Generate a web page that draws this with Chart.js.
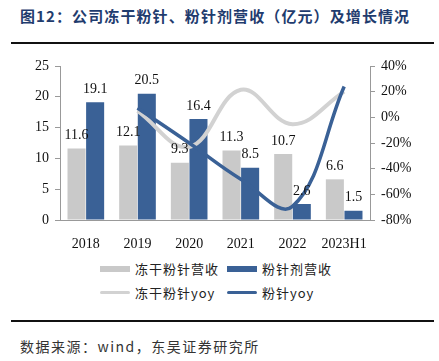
<!DOCTYPE html>
<html>
<head>
<meta charset="utf-8">
<script src="https://cdn.jsdelivr.net/npm/chart.js@4"></script>
<style>
  body { margin: 0; background: #fff; width: 439px; height: 361px; position: relative; overflow: hidden; }
  #title { position: absolute; left: 20px; top: 5px; font: bold 15px "Noto Sans CJK SC"; color: #1f3c6e; letter-spacing: 1.1px; white-space: nowrap; }
  .rule { position: absolute; left: 11px; width: 423px; height: 2px; background: #111; }
  #chart-box { position: absolute; left: 0; top: 44px; }
  .leg { position: absolute; font: 13px "Noto Sans CJK SC"; color: #222; letter-spacing: 1px; white-space: nowrap; }
  .sw { position: absolute; }
  #source { position: absolute; left: 20px; top: 336px; font: 14px "Noto Sans CJK SC"; color: #333; letter-spacing: 1.5px; white-space: nowrap; }
</style>
</head>
<body>
<div id="title">图12：公司冻干粉针、粉针剂营收（亿元）及增长情况</div>
<div class="rule" style="top:42px"></div>
<div id="chart-box"><canvas id="combo-chart" width="439" height="210"></canvas></div>
<div id="legend"></div>
<div class="rule" style="top:320px"></div>
<div id="source">数据来源：wind，东吴证券研究所</div>
<script>
const labels = ['2018', '2019', '2020', '2021', '2022', '2023H1']
const dryRevenue = [11.6, 12.1, 9.3, 11.3, 10.7, 6.6]
const powderRevenue = [19.1, 20.5, 16.4, 8.5, 2.6, 1.5]
const dryYoy = [null, 5, -23.1, 21.5, -5.3, 20]
const powderYoy = [null, 7.3, -20, -48.2, -69.4, 24]
const seriesNames = ['冻干粉针营收', '粉针剂营收', '冻干粉针yoy', '粉针yoy']

const GRAY = '#c9c9c9'
const BLUE = '#3a6196'
const LINE_GRAY = '#d2d2d2'

// legend in html, two rows like the original
function renderLegend() {
    const items = [
        { name: seriesNames[0], color: GRAY, x: 100, y: 266, h: 6 },
        { name: seriesNames[1], color: BLUE, x: 227, y: 266, h: 6 },
        { name: seriesNames[2], color: LINE_GRAY, x: 100, y: 291, h: 3 },
        { name: seriesNames[3], color: BLUE, x: 227, y: 291, h: 3 }
    ]
    const box = document.getElementById('legend')
    items.forEach(it => {
        const sw = document.createElement('div')
        sw.className = 'sw'
        sw.style.cssText = `left:${it.x}px;top:${it.y}px;width:30px;height:${it.h}px;background:${it.color};border-radius:${it.h < 6 ? 2 : 0}px`
        box.appendChild(sw)
        const t = document.createElement('div')
        t.className = 'leg'
        t.textContent = it.name
        t.style.left = (it.x + 35) + 'px'
        t.style.top = (it.y + it.h / 2 - 10) + 'px'
        box.appendChild(t)
    })
}

const barLabels = {
    id: 'barLabels',
    afterDatasetsDraw(chart) {
        const ctx = chart.ctx
        ctx.save()
        ctx.font = '14px "Liberation Serif"'
        ctx.fillStyle = '#111'
        ctx.textAlign = 'center'
        ctx.textBaseline = 'bottom'
        ;[0, 1].forEach(i => {
            const meta = chart.getDatasetMeta(i)
            meta.data.forEach((bar, j) => {
                const v = chart.data.datasets[i].data[j]
                ctx.fillText(v.toFixed(1), bar.x, bar.y - 6)
            })
        })
        ctx.restore()
    }
}

function renderChart() {
    const tickFont = { family: 'Liberation Serif', size: 14 }
    const data = {
        labels: labels,
        datasets: [
            { type: 'bar', label: seriesNames[0], data: dryRevenue, backgroundColor: GRAY, yAxisID: 'y', order: 3, categoryPercentage: 0.72, barPercentage: 0.97 },
            { type: 'bar', label: seriesNames[1], data: powderRevenue, backgroundColor: BLUE, yAxisID: 'y', order: 3, categoryPercentage: 0.72, barPercentage: 0.97 },
            { type: 'line', label: seriesNames[2], data: dryYoy, borderColor: LINE_GRAY, borderWidth: 4, pointRadius: 0, tension: 0.4, yAxisID: 'y1', order: 2 },
            { type: 'line', label: seriesNames[3], data: powderYoy, borderColor: BLUE, borderWidth: 3.5, pointRadius: 0, tension: 0.4, yAxisID: 'y1', order: 1 }
        ]
    }

    const config = {
        data: data,
        options: {
            responsive: false,
            animation: false,
            layout: { padding: { top: 22, left: 0, right: 0, bottom: 0 } },
            plugins: { legend: { display: false }, tooltip: { enabled: false } },
            scales: {
                x: {
                    grid: { display: false },
                    border: { display: true, color: '#999' },
                    ticks: { font: tickFont, color: '#111', padding: 8, maxRotation: 0 },
                    afterFit: s => { s.height = 34 }
                },
                y: {
                    position: 'left',
                    min: 0, max: 25,
                    ticks: { stepSize: 5, font: tickFont, color: '#111', padding: 6 },
                    grid: { drawOnChartArea: false, drawTicks: true, tickLength: 5, color: '#999' },
                    border: { display: true, color: '#999' },
                    afterFit: s => { s.width = 60 }
                },
                y1: {
                    position: 'right',
                    min: -80, max: 40,
                    ticks: { stepSize: 20, font: tickFont, color: '#111', padding: 6, callback: v => v + '%' },
                    grid: { drawOnChartArea: false, drawTicks: true, tickLength: 5, color: '#999' },
                    border: { display: true, color: '#999' },
                    afterFit: s => { s.width = 69 }
                }
            }
        },
        plugins: [barLabels]
    }

    const myChart = new Chart(document.getElementById('combo-chart'), config)
}

renderLegend()
renderChart()
</script>
</body>
</html>
